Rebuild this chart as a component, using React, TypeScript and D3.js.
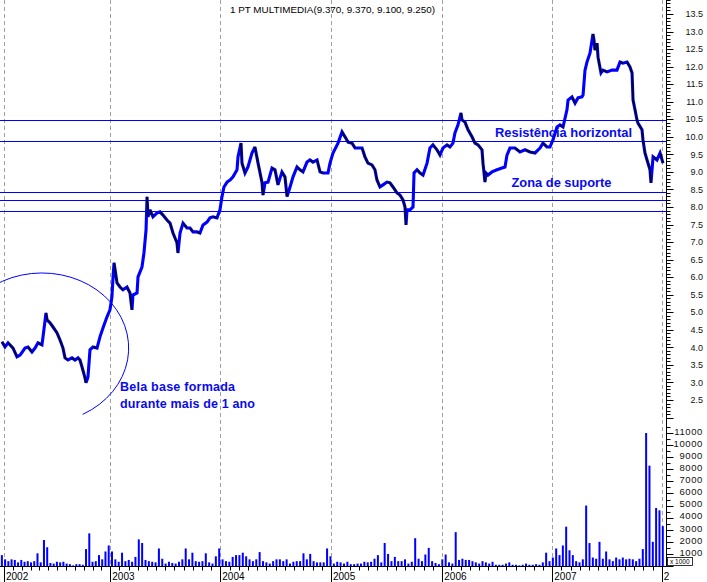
import React from "react";
import * as d3 from "d3";

// ---------- DATA ----------
const yearTicks = [2002, 2003, 2004, 2005, 2006, 2007, 2008];
const yearLabels = ["2002", "2003", "2004", "2005", "2006", "2007", "2"];

const priceDates = [
  // 2002
  2001.981, 2002.009, 2002.038, 2002.085, 2002.122, 2002.151, 2002.198, 2002.226, 2002.263, 2002.292,
  2002.320, 2002.357, 2002.367, 2002.395, 2002.405, 2002.433, 2002.461, 2002.499, 2002.527, 2002.555,
  2002.574, 2002.602, 2002.640, 2002.668, 2002.696, 2002.715, 2002.734, 2002.762, 2002.771, 2002.781,
  2002.790, 2002.809, 2002.837, 2002.875, 2002.903, 2002.931, 2002.969, 2002.997,
  // 2003
  2003.015, 2003.025, 2003.034, 2003.061, 2003.088, 2003.115, 2003.152, 2003.179, 2003.197, 2003.206,
  2003.243, 2003.252, 2003.288, 2003.306, 2003.325, 2003.334, 2003.343, 2003.361, 2003.388, 2003.425,
  2003.452, 2003.479, 2003.515, 2003.543, 2003.570, 2003.606, 2003.615, 2003.634, 2003.661, 2003.697,
  2003.725, 2003.752, 2003.788, 2003.815, 2003.843, 2003.879, 2003.906, 2003.934, 2003.970, 2003.997,
  // 2004
  2004.015, 2004.033, 2004.061, 2004.088, 2004.115, 2004.151, 2004.160, 2004.187, 2004.196, 2004.223,
  2004.250, 2004.286, 2004.313, 2004.341, 2004.377, 2004.386, 2004.404, 2004.431, 2004.467, 2004.494,
  2004.521, 2004.557, 2004.584, 2004.603, 2004.630, 2004.657, 2004.693, 2004.720, 2004.747, 2004.783,
  2004.810, 2004.837, 2004.874, 2004.901, 2004.928, 2004.973, 2004.991,
  // 2005
  2005.018, 2005.063, 2005.099, 2005.126, 2005.153, 2005.189, 2005.216, 2005.243, 2005.279, 2005.305,
  2005.332, 2005.368, 2005.395, 2005.413, 2005.440, 2005.467, 2005.503, 2005.530, 2005.557, 2005.593,
  2005.620, 2005.647, 2005.665, 2005.674, 2005.683, 2005.710, 2005.737, 2005.746, 2005.773, 2005.800,
  2005.827, 2005.863, 2005.889, 2005.916, 2005.952, 2005.979,
  // 2006
  2006.006, 2006.043, 2006.070, 2006.097, 2006.115, 2006.143, 2006.170, 2006.179, 2006.206, 2006.234,
  2006.270, 2006.297, 2006.325, 2006.361, 2006.370, 2006.388, 2006.397, 2006.415, 2006.452, 2006.497,
  2006.543, 2006.570, 2006.588, 2006.615, 2006.661, 2006.706, 2006.752, 2006.797, 2006.843, 2006.888,
  2006.915, 2006.952, 2006.979,
  // 2007
  2007.006, 2007.043, 2007.070, 2007.098, 2007.134, 2007.144, 2007.180, 2007.208, 2007.235, 2007.271,
  2007.281, 2007.299, 2007.317, 2007.345, 2007.372, 2007.381, 2007.390, 2007.409, 2007.418, 2007.445,
  2007.463, 2007.500, 2007.546, 2007.591, 2007.619, 2007.646, 2007.683, 2007.710, 2007.729, 2007.738,
  2007.756, 2007.774, 2007.783, 2007.820, 2007.829, 2007.847, 2007.866, 2007.893, 2007.902, 2007.921,
  2007.957, 2007.985, 2008.012,
];

const priceValues = [
  // 2002
  4.16, 4.01, 4.13, 3.98, 3.73, 3.78, 3.98, 4.01, 3.87, 3.98,
  4.13, 4.07, 4.30, 4.98, 4.78, 4.70, 4.58, 4.41, 4.21, 3.98,
  3.70, 3.64, 3.70, 3.64, 3.70, 3.64, 3.44, 3.13, 2.99, 3.07,
  3.16, 3.93, 4.01, 3.98, 4.30, 4.55, 4.87, 5.07,
  // 2003
  5.44, 6.01, 6.41, 5.84, 5.72, 5.64, 5.72, 5.55, 5.07, 5.49,
  5.55, 6.01, 6.29, 6.69, 7.35, 8.29, 7.72, 7.92, 7.72, 7.83,
  7.86, 7.77, 7.63, 7.54, 7.26, 6.98, 6.69, 7.26, 7.54, 7.40,
  7.40, 7.29, 7.29, 7.26, 7.49, 7.57, 7.69, 7.72, 7.69, 7.92,
  // 2004
  8.29, 8.57, 8.71, 8.77, 8.86, 9.06, 9.43, 9.82, 9.25, 8.97,
  9.14, 9.54, 9.71, 9.25, 8.69, 8.34, 8.69, 8.71, 9.11, 9.06,
  8.63, 9.00, 8.86, 8.30, 8.57, 8.86, 9.14, 9.06, 9.00, 9.28,
  9.34, 9.28, 9.34, 9.00, 8.97, 8.97, 9.25,
  // 2005
  9.54, 9.82, 10.14, 10.00, 9.85, 9.82, 9.68, 9.68, 9.68, 9.43,
  9.25, 9.20, 9.06, 8.77, 8.57, 8.63, 8.71, 8.69, 8.57, 8.40,
  8.34, 8.20, 8.00, 7.49, 7.92, 7.92, 8.00, 8.97, 9.06, 8.97,
  8.91, 9.25, 9.68, 9.77, 9.63, 9.48,
  // 2006
  9.68, 9.77, 9.71, 9.82, 10.11, 10.34, 10.68, 10.48, 10.42, 10.20,
  10.00, 9.82, 9.77, 9.63, 9.25, 8.71, 8.97, 8.91, 9.00, 9.06,
  9.11, 9.14, 9.48, 9.68, 9.68, 9.57, 9.63, 9.57, 9.54, 9.68,
  9.82, 9.71, 9.71,
  // 2007
  9.91, 10.28, 10.34, 10.28, 10.77, 11.05, 11.14, 10.96, 11.11, 11.14,
  11.19, 11.90, 12.13, 12.39, 12.93, 12.76, 12.47, 12.67, 12.27, 11.82,
  11.90, 11.85, 11.90, 11.90, 12.13, 12.10, 12.13, 11.99, 11.82, 11.05,
  10.77, 10.48, 10.39, 10.20, 9.91, 9.54, 9.34, 9.06, 8.69, 9.43,
  9.34, 9.54, 9.25,
];

// volume in thousands, sampled at regular intervals from start to end date
const volumeStart = 2001.98;
const volumeEnd = 2008.01;
const volumeValues = [
  0.9, 0.55, 0.4, 0.55, 0.5, 0.3, 0.5, 0.35, 0.4, 0.3,
  0.4, 1.05, 0.3, 2.15, 1.55, 0.25, 0.2, 0.35, 0.3, 0.35,
  0.2, 0.15, 0.05, 0.15, 0.15, 0.1, 1.4, 2.7, 0.35, 0.4,
  0.9, 0.55, 1.2, 1.7, 1.2, 0.55, 0.35, 1.1, 0.4, 0.5,
  0.35, 0.75, 2.2, 1.9, 0.5, 0.4, 0.35, 0.3, 1.45, 0.6,
  0.2, 0.35, 0.25, 0.2, 0.35, 0.55, 1.45, 0.55, 1.1, 0.4,
  0.35, 0.4, 1.05, 0.3, 0.2, 0.8, 1.45, 0.55, 0.4, 0.35,
  0.75, 0.9, 0.9, 1.1, 0.8, 0.55, 0.4, 0.55, 1.15, 0.4,
  0.3, 0.2, 0.4, 0.55, 0.55, 0.4, 0.55, 0.2, 0.35, 0.4,
  0.4, 1.05, 0.55, 1.0, 0.4, 0.3, 0.3, 0.3, 1.45, 0.8,
  0.2, 0.35, 0.3, 0.2, 0.35, 0.15, 0.15,
  0.2, 0.2, 0.35, 0.3, 0.35, 0.6, 0.9, 0.3, 1.9, 1.0,
  0.4, 0.75, 0.4, 0.4, 0.55, 0.2, 0.35, 2.3, 0.6, 0.4,
  0.95, 1.5, 0.4, 0.25, 0.15, 0.55, 0.95, 0.3, 0.2, 2.8,
  0.5, 0.6, 0.5, 0.5, 0.4, 0.3, 0.2, 0.4, 0.3, 0.2,
  0.35, 0.1, 0.1, 0.1, 0.2, 0.3, 0.1, 0.1, 0.05, 0.1,
  0.2, 0.1, 0.1, 0.15, 0.1, 0.3, 1.1, 0.4, 0.7, 1.45,
  0.9, 1.7, 3.25, 1.3, 0.9, 0.4, 0.3, 0.55, 5.0, 1.9,
  0.7, 0.6, 2.0, 0.6, 1.2, 0.55, 0.4, 0.7, 0.55, 0.7,
  0.55, 0.6, 0.55, 0.4, 0.6, 1.4, 11.0, 8.3, 2.0, 4.8,
  4.6, 3.3,
];

const levelValues = [10.47, 9.87, 8.42, 8.19, 7.88];

const priceTickLabels = ["2.5", "3.0", "3.5", "4.0", "4.5", "5.0", "5.5", "6.0", "6.5", "7.0", "7.5", "8.0", "8.5", "9.0", "9.5", "10.0", "10.5", "11.0", "11.5", "12.0", "12.5", "13.0", "13.5"];
const volumeTickLabels = ["1000", "2000", "3000", "4000", "5000", "6000", "7000", "8000", "9000", "10000", "11000"];

const titleText = "1 PT MULTIMEDIA(9.370, 9.370, 9.100, 9.250)";

// ---------- CHART ----------
const W = 707;
const H = 582;
const FONT = "'Liberation Sans', Arial, Helvetica, sans-serif";
const BLUE = "#0000ff";
const TEXT_BLUE = "#0a0aee";

export default function App() {
  const x = d3.scaleLinear().domain(yearTicks).range([4, 110.3, 220.3, 331, 442.3, 552.3, 661.7]);
  const y = d3.scaleLinear().domain([2.5, 13.5]).range([400, 14]);
  const yv = d3.scaleLinear().domain([0, 11000]).range([566, 433]);
  const axisX = 666.5;
  const baseY = 566.5;

  const pricePts: [number, number][] = priceDates.map((t, i) => [x(t), y(priceValues[i])]);
  const pricePath = d3.line()(pricePts) || "";

  const vn = volumeValues.length;
  const volDates = volumeValues.map((_, i) => volumeStart + (i * (volumeEnd - volumeStart)) / (vn - 1));

  const priceTicks = d3.range(20, 140).map((i) => ({ v: i / 10, major: i % 5 === 0 }));
  const volTicks = d3.range(0, 24).map((i) => ({ v: i * 500, major: i % 2 === 0 }));

  const monthTicks: number[] = [];
  for (let yr = 2002; yr < 2008; yr++) for (let m = 1; m < 12; m++) monthTicks.push(yr + m / 12);

  // ellipse annotation in data coordinates
  const ellCx = x(2002.357), ellCy = y(3.98);
  const ellRx = x(2003.167) - ellCx, ellRy = y(3.98) - y(6.12);
  const a0 = (-150 * Math.PI) / 180, a1 = (62 * Math.PI) / 180;
  const ellPath = `M${ellCx + ellRx * Math.cos(a0)},${ellCy + ellRy * Math.sin(a0)} A${ellRx},${ellRy} 0 1 1 ${ellCx + ellRx * Math.cos(a1)},${ellCy + ellRy * Math.sin(a1)}`;

  return (
    <svg width={W} height={H} style={{ position: "absolute", left: 0, top: 0, background: "#fff" }} fontFamily={FONT}>
      <defs>
        <clipPath id="plot">
          <rect x={0} y={0} width={axisX} height={baseY} />
        </clipPath>
      </defs>
      <rect x={0} y={0} width={W} height={H} fill="#fff" />

      {/* year gridlines */}
      {yearTicks.map((t) => (
        <line key={"g" + t} x1={Math.round(x(t)) + 0.5} x2={Math.round(x(t)) + 0.5} y1={0} y2={baseY} stroke="#a0a0a0" strokeWidth={1} strokeDasharray="4 3" />
      ))}

      <g clipPath="url(#plot)">
        {/* horizontal levels */}
        {levelValues.map((v, i) => (
          <line key={"l" + i} x1={0} x2={axisX} y1={Math.round(y(v)) + 0.5} y2={Math.round(y(v)) + 0.5} stroke={BLUE} strokeWidth={1} />
        ))}

        {/* annotations text */}
        <text x={495} y={136.5} fill={TEXT_BLUE} fontSize={13.5} fontWeight="bold" textLength={137} lengthAdjust="spacingAndGlyphs">Resistência horizontal</text>
        <text x={511.5} y={187} fill={TEXT_BLUE} fontSize={13} fontWeight="bold" textLength={100} lengthAdjust="spacingAndGlyphs">Zona de suporte</text>
        <text x={120} y={391} fill={TEXT_BLUE} fontSize={12.5} fontWeight="bold" textLength={115} lengthAdjust="spacing">Bela base formada</text>
        <text x={120} y={408} fill={TEXT_BLUE} fontSize={12.5} fontWeight="bold" textLength={135} lengthAdjust="spacing">durante mais de 1 ano</text>

        {/* ellipse */}
        <path d={ellPath} fill="none" stroke={BLUE} strokeWidth={1} />

        {/* volume */}
        {volumeValues.map((v, i) => (
          <rect key={"v" + i} x={x(volDates[i]) - 1} y={yv(v * 1000)} width={2} height={Math.max(0.5, baseY - yv(v * 1000))} fill={BLUE} />
        ))}

        {/* price */}
        <path d={pricePath} fill="none" stroke={BLUE} strokeWidth={3.1} strokeLinejoin="miter" strokeMiterlimit={3} />
        {pricePts.slice(1).map((p, i) =>
          priceValues[i + 1] < priceValues[i] ? (
            <line key={"d" + i} x1={pricePts[i][0]} y1={pricePts[i][1]} x2={p[0]} y2={p[1]} stroke="#000" strokeWidth={1.4} />
          ) : null
        )}
      </g>

      {/* right axis */}
      <line x1={axisX} x2={axisX} y1={0} y2={baseY} stroke="#000" strokeWidth={1} />
      {priceTicks.map((d) => (
        <line key={"pt" + d.v} x1={axisX} x2={axisX + (d.major ? 7 : 4)} y1={Math.round(y(d.v)) + 0.5} y2={Math.round(y(d.v)) + 0.5} stroke="#000" strokeWidth={1} />
      ))}
      {priceTickLabels.map((s) => (
        <text key={"pl" + s} x={703} y={y(+s)} dy="0.35em" textAnchor="end" fontSize={9} fill="#111">{s}</text>
      ))}
      {volTicks.map((d) => (
        <line key={"vt" + d.v} x1={axisX} x2={axisX + (d.major ? 7 : 4)} y1={Math.round(yv(d.v)) + 0.5} y2={Math.round(yv(d.v)) + 0.5} stroke="#000" strokeWidth={1} />
      ))}
      {volumeTickLabels.map((s) => (
        <text key={"vl" + s} x={703} y={yv(+s) - 1.5} dy="0.35em" textAnchor="end" fontSize={9.5} letterSpacing={0.6} fill="#111">{s}</text>
      ))}
      <rect x={667.5} y={557.5} width={25} height={8} fill="#fff" stroke="#000" strokeWidth={0.8} />
      <text x={670} y={564} fontSize={6.5} fill="#000">x 1000</text>

      {/* bottom axis */}
      <line x1={0} x2={axisX} y1={baseY} y2={baseY} stroke="#000" strokeWidth={1} />
      {monthTicks.map((t) => (
        <line key={"m" + t} x1={Math.round(x(t)) + 0.5} x2={Math.round(x(t)) + 0.5} y1={baseY} y2={baseY + 4} stroke="#000" strokeWidth={1} />
      ))}
      {yearTicks.map((t, i) => (
        <g key={"y" + t}>
          <line x1={Math.round(x(t)) + 0.5} x2={Math.round(x(t)) + 0.5} y1={baseY} y2={H} stroke="#000" strokeWidth={1} />
          <text x={x(t) + 2} y={580} fontSize={10} fill="#000">{yearLabels[i]}</text>
        </g>
      ))}

      {/* title */}
      <text x={230} y={12.5} fontSize={9.5} fill="#000" textLength={205} lengthAdjust="spacingAndGlyphs">{titleText}</text>
    </svg>
  );
}
